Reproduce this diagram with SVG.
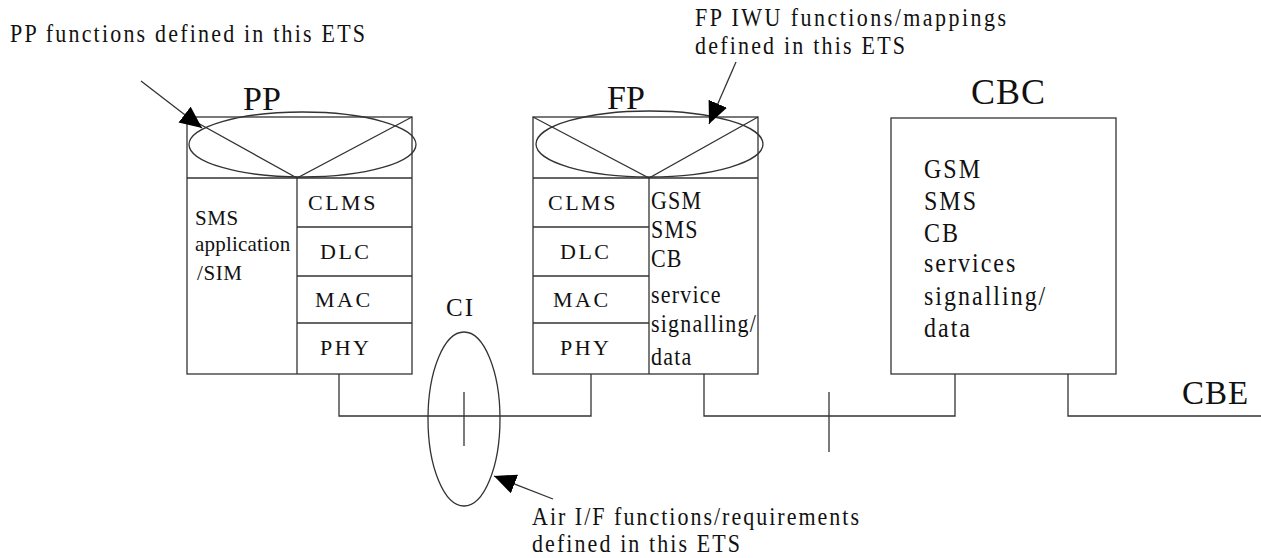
<svg xmlns="http://www.w3.org/2000/svg" width="1261" height="558" viewBox="0 0 1261 558" font-family="'Liberation Serif', 'Times New Roman', 'DejaVu Serif', serif">
<defs>
<marker id="ah" markerUnits="userSpaceOnUse" markerWidth="24" markerHeight="22" refX="22" refY="10" orient="auto">
<path d="M0,0 L22,10 L0,20 z" fill="#000"/>
</marker>
<style>
.ln{fill:none;stroke:#333;stroke-width:1.3}
text{font-family:'Liberation Serif','Times New Roman','DejaVu Serif',serif;fill:#111}
.big{font-size:34px}
.lbl{font-size:22px;letter-spacing:2.5px}
.col{font-size:22px;letter-spacing:1.2px}
.cbc{font-size:24px;letter-spacing:2px}
.note{font-size:22px}
</style>
</defs>
<rect width="1261" height="558" fill="#fff"/>

<g id="pp-note">
<text class="note" x="10" y="42" transform="matrix(1 0 0 1.14 0 -5.88)" textLength="355" lengthAdjust="spacing">PP functions defined in this ETS</text>
</g>
<g id="fp-note">
<text class="note" x="695" y="26" transform="matrix(1 0 0 1.14 0 -3.64)" textLength="311" lengthAdjust="spacing">FP IWU functions/mappings</text>
<text class="note" x="695" y="54" transform="matrix(1 0 0 1.14 0 -7.56)" textLength="210" lengthAdjust="spacing">defined in this ETS</text>
</g>
<g id="air-note">
<text class="note" x="532" y="525" transform="matrix(1 0 0 1.14 0 -73.5)" textLength="327" lengthAdjust="spacing">Air I/F functions/requirements</text>
<text class="note" x="532" y="552" transform="matrix(1 0 0 1.14 0 -77.28)" textLength="208" lengthAdjust="spacing">defined in this ETS</text>
</g>

<g id="PP">
<text class="big" x="243" y="110">PP</text>
<rect class="ln" x="187" y="117" width="225" height="257"/>
<line class="ln" x1="187" y1="178" x2="412" y2="178"/>
<polyline class="ln" points="187,117 297,178 412,117"/>
<ellipse class="ln" cx="302.5" cy="144.5" rx="113.5" ry="32.5"/>
<line class="ln" x1="297" y1="178" x2="297" y2="374"/>
<line class="ln" x1="297" y1="227" x2="412" y2="227"/>
<line class="ln" x1="297" y1="276" x2="412" y2="276"/>
<line class="ln" x1="297" y1="323" x2="412" y2="323"/>
<text style="font-size:21px;letter-spacing:0.6px" x="195" y="225">SMS</text>
<text style="font-size:21px;letter-spacing:0.2px" x="195" y="251">application</text>
<text style="font-size:21px;letter-spacing:0.6px" x="197" y="280">/SIM</text>
<text class="lbl" x="308" y="210">CLMS</text>
<text class="lbl" x="320" y="259">DLC</text>
<text class="lbl" x="315" y="307">MAC</text>
<text class="lbl" x="320" y="355">PHY</text>
</g>

<g id="FP">
<text class="big" x="607" y="109">FP</text>
<rect class="ln" x="533" y="117" width="225" height="257"/>
<line class="ln" x1="533" y1="178" x2="758" y2="178"/>
<polyline class="ln" points="533,117 649,178 758,117"/>
<ellipse class="ln" cx="649.5" cy="144" rx="113.5" ry="33"/>
<line class="ln" x1="649" y1="178" x2="649" y2="374"/>
<line class="ln" x1="533" y1="227" x2="649" y2="227"/>
<line class="ln" x1="533" y1="276" x2="649" y2="276"/>
<line class="ln" x1="533" y1="323" x2="649" y2="323"/>
<text class="lbl" x="548" y="210">CLMS</text>
<text class="lbl" x="560" y="259">DLC</text>
<text class="lbl" x="553" y="307">MAC</text>
<text class="lbl" x="560" y="355">PHY</text>
<text class="col" x="651" y="209" transform="matrix(1 0 0 1.1 0 -20.9)">GSM</text>
<text class="col" x="651" y="238" transform="matrix(1 0 0 1.1 0 -23.8)">SMS</text>
<text class="col" x="651" y="267" transform="matrix(1 0 0 1.1 0 -26.7)">CB</text>
<text class="col" x="651" y="303" transform="matrix(1 0 0 1.1 0 -30.3)">service</text>
<text class="col" x="651" y="332" transform="matrix(1 0 0 1.1 0 -33.2)">signalling/</text>
<text class="col" x="651" y="365" transform="matrix(1 0 0 1.1 0 -36.5)">data</text>
</g>

<g id="CBC">
<text style="font-size:36px;letter-spacing:1px" x="971" y="104">CBC</text>
<rect class="ln" x="891" y="118" width="225" height="256"/>
<text class="cbc" x="924" y="178" transform="matrix(1 0 0 1.1 0 -17.8)">GSM</text>
<text class="cbc" x="924" y="210" transform="matrix(1 0 0 1.1 0 -21)">SMS</text>
<text class="cbc" x="924" y="242" transform="matrix(1 0 0 1.1 0 -24.2)">CB</text>
<text class="cbc" x="924" y="272" transform="matrix(1 0 0 1.1 0 -27.2)">services</text>
<text class="cbc" x="924" y="305" transform="matrix(1 0 0 1.1 0 -30.5)">signalling/</text>
<text class="cbc" x="924" y="337" transform="matrix(1 0 0 1.1 0 -33.7)">data</text>
</g>

<g id="CI">
<text style="font-size:25px;letter-spacing:2px" x="446" y="316">CI</text>
<ellipse class="ln" cx="464" cy="419" rx="36" ry="87"/>
</g>

<g id="CBE">
<text style="font-size:33px;letter-spacing:1px" x="1182" y="404">CBE</text>
</g>

<g id="connectors">
<polyline class="ln" points="339,374 339,416 591,416 591,374"/>
<polyline class="ln" points="704,374 704,416 955,416 955,374"/>
<polyline class="ln" points="1068,374 1068,416 1261,416"/>
<line class="ln" x1="464" y1="392" x2="464" y2="446"/>
<line class="ln" x1="829" y1="392" x2="829" y2="452"/>
<line class="ln" x1="141" y1="81" x2="202" y2="128" marker-end="url(#ah)"/>
<line class="ln" x1="736" y1="62" x2="709" y2="124" marker-end="url(#ah)"/>
<line class="ln" x1="553" y1="499" x2="494" y2="476" marker-end="url(#ah)"/>
</g>
</svg>
